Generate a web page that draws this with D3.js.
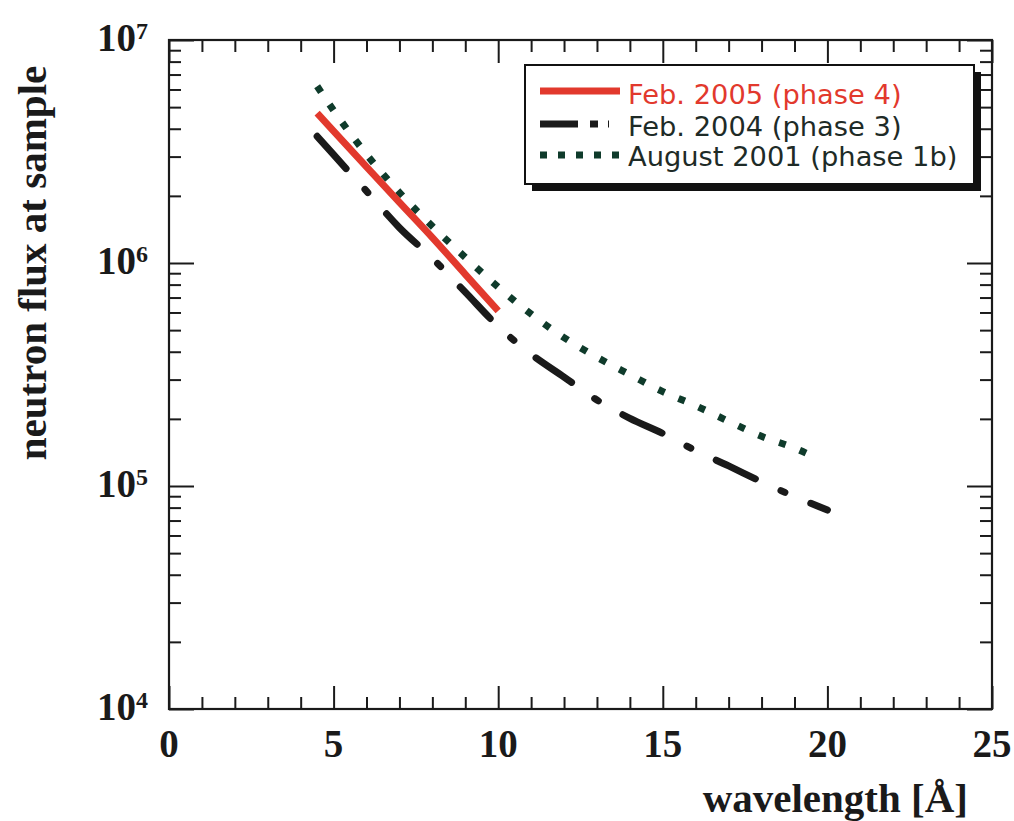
<!DOCTYPE html>
<html>
<head>
<meta charset="utf-8">
<script src="https://cdn.jsdelivr.net/npm/d3@7"></script>
<style>
  html, body { margin: 0; padding: 0; background: #fff; }
  svg { display: block; }
</style>
</head>
<body>
<svg id="chart" width="1014" height="821"></svg>
<script>
// ---- data ----
const seriesNames = ["Feb. 2005 (phase 4)", "Feb. 2004 (phase 3)", "August 2001 (phase 1b)"];
const phase4X = [4.5, 5, 6, 7, 8, 9, 10];
const phase4Y = [4.7e6, 3.9e6, 2.7e6, 1.87e6, 1.3e6, 8.9e5, 6.1e5];
const phase3X = [4.5, 5, 6, 7, 8, 9, 10, 11, 12, 13, 14, 15, 16, 17, 18, 19, 20];
const phase3Y = [3.7e6, 3.06e6, 2.1e6, 1.44e6, 1.05e6, 7.4e5, 5.2e5, 3.9e5, 3.08e5, 2.43e5, 2.01e5, 1.72e5, 1.44e5, 1.23e5, 1.045e5, 8.97e4, 7.8e4];
const phase1bX = [4.5, 5, 6, 7, 8, 9, 10, 11, 12, 13, 14, 15, 16, 17, 18, 19, 19.6];
const phase1bY = [6.2e6, 4.83e6, 3.07e6, 2.07e6, 1.46e6, 1.06e6, 7.8e5, 5.9e5, 4.63e5, 3.78e5, 3.16e5, 2.65e5, 2.29e5, 1.95e5, 1.67e5, 1.48e5, 1.35e5];
const xMajorTicks = [0, 5, 10, 15, 20, 25];
const xTickLabels = ["0", "5", "10", "15", "20", "25"];
const yDecades = [1e4, 1e5, 1e6, 1e7];
const yExponents = ["4", "5", "6", "7"];
const xTitle = "wavelength [Å]";
const yTitle = "neutron flux at sample";

// ---- layout ----
const L = 169, R = 992, T = 40, B = 709;
const svg = d3.select("#chart");
const x = d3.scaleLinear().domain([0, 25]).range([L, R]);
const y = d3.scaleLog().domain([1e4, 1e7]).range([B, T]);

const xMinorTicks = d3.range(0, 26, 1).filter(v => v % 5 !== 0);
const yMinorTicks = [];
yDecades.slice(0, 3).forEach(d => { for (let k = 2; k <= 9; k++) yMinorTicks.push(d * k); });

const serif = "'Liberation Serif', 'Times New Roman', serif";
const sans = "'DejaVu Sans', Verdana, sans-serif";

function styleAxis(g) {
  g.select(".domain").remove();
  g.selectAll(".tick line").attr("stroke", "#1a1a1a").attr("stroke-width", 2);
  g.selectAll(".tick text").remove();
}

// bottom
svg.append("g").attr("transform", `translate(0,${B})`).call(d3.axisBottom(x).tickValues(xMajorTicks).tickSize(-23)).call(styleAxis);
svg.append("g").attr("transform", `translate(0,${B})`).call(d3.axisBottom(x).tickValues(xMinorTicks).tickSize(-12)).call(styleAxis);
// top
svg.append("g").attr("transform", `translate(0,${T})`).call(d3.axisTop(x).tickValues(xMajorTicks).tickSize(-23)).call(styleAxis);
svg.append("g").attr("transform", `translate(0,${T})`).call(d3.axisTop(x).tickValues(xMinorTicks).tickSize(-12)).call(styleAxis);
// left
svg.append("g").attr("transform", `translate(${L},0)`).call(d3.axisLeft(y).tickValues(yDecades).tickSize(-25)).call(styleAxis);
svg.append("g").attr("transform", `translate(${L},0)`).call(d3.axisLeft(y).tickValues(yMinorTicks).tickSize(-12)).call(styleAxis);
// right
svg.append("g").attr("transform", `translate(${R},0)`).call(d3.axisRight(y).tickValues(yDecades).tickSize(-25)).call(styleAxis);
svg.append("g").attr("transform", `translate(${R},0)`).call(d3.axisRight(y).tickValues(yMinorTicks).tickSize(-12)).call(styleAxis);

// frame
svg.append("rect").attr("x", L).attr("y", T).attr("width", R - L).attr("height", B - T)
  .attr("fill", "none").attr("stroke", "#1a1a1a").attr("stroke-width", 2.2);

// x tick labels
svg.append("g").selectAll("text").data(xMajorTicks).join("text")
  .attr("x", d => x(d)).attr("y", B + 48)
  .attr("text-anchor", "middle")
  .attr("font-family", serif).attr("font-weight", "bold").attr("font-size", 39)
  .attr("fill", "#1a1a1a")
  .text((d, i) => xTickLabels[i]);

// y tick labels
const yl = svg.append("g").selectAll("text").data(yDecades).join("text")
  .attr("x", 148).attr("y", d => y(d) + 11)
  .attr("text-anchor", "end")
  .attr("font-family", serif).attr("font-weight", "bold").attr("font-size", 39)
  .attr("fill", "#1a1a1a");
yl.append("tspan").text("10");
yl.append("tspan").attr("dy", -12).attr("font-size", 24).text((d, i) => yExponents[i]);

// axis titles
svg.append("text").attr("x", 968).attr("y", 812).attr("text-anchor", "end")
  .attr("font-family", serif).attr("font-weight", "bold").attr("font-size", 41)
  .attr("fill", "#1a1a1a").text(xTitle);
svg.append("text").attr("transform", "translate(46,263) rotate(-90)").attr("text-anchor", "middle")
  .attr("font-family", serif).attr("font-weight", "bold").attr("font-size", 41)
  .attr("fill", "#1a1a1a").text(yTitle);

// series
const line = d3.line().x(d => x(d[0])).y(d => y(d[1])).curve(d3.curveMonotoneX);
const series = [
  { xs: phase4X, ys: phase4Y, color: "#e2392d", width: 7, dash: null, cap: "butt" },
  { xs: phase3X, ys: phase3Y, color: "#1a1a1a", width: 7, dash: [40, 26, 4, 26], cap: "round", fitEnd: 18 },
  { xs: phase1bX, ys: phase1bY, color: "#0f3b2b", width: 7, dash: [7, 15], cap: "butt" }
];
const plot = svg.append("g");
series.slice().reverse().forEach(s => {
  const p = plot.append("path").datum(s.xs.map((v, i) => [v, s.ys[i]]))
    .attr("d", line).attr("fill", "none")
    .attr("stroke", s.color).attr("stroke-width", s.width)
    .attr("stroke-linecap", s.cap).attr("stroke-linejoin", "round");
  if (s.dash) {
    let pat = s.dash.slice();
    if (s.fitEnd) {
      // stretch the pattern slightly so the path ends inside a dash
      const total = p.node().getTotalLength();
      const period = d3.sum(pat);
      const n = Math.max(1, Math.round((total - s.fitEnd) / period));
      const k = (total - s.fitEnd) / (n * period);
      pat = pat.map(v => v * k);
    }
    p.attr("stroke-dasharray", pat.join(","));
  }
});

// legend
const lg = svg.append("g");
const bx = 525, by = 65, bw = 449, bh = 119;
lg.append("rect").attr("x", bx + 7).attr("y", by + 7).attr("width", bw).attr("height", bh).attr("fill", "#111");
lg.append("rect").attr("x", bx).attr("y", by).attr("width", bw).attr("height", bh)
  .attr("fill", "#fff").attr("stroke", "#111").attr("stroke-width", 2);
const legendRows = [
  { base: 104, ly: 91, text: "#e2392d" },
  { base: 136, ly: 124, text: "#1e2b27" },
  { base: 166, ly: 155, text: "#1e2b27" }
];
const legendDash = ["none", "38,12,8,10,1,20", "7,11"];
series.forEach((s, i) => {
  const r = legendRows[i];
  lg.append("line").attr("x1", 540).attr("x2", 620).attr("y1", r.ly).attr("y2", r.ly)
    .attr("stroke", s.color).attr("stroke-width", s.width)
    .attr("stroke-dasharray", legendDash[i]).attr("stroke-linecap", "butt");
  lg.append("text").attr("x", 628).attr("y", r.base)
    .attr("font-family", sans).attr("font-size", 27.3).attr("fill", r.text)
    .text(seriesNames[i]);
});
</script>
</body>
</html>
